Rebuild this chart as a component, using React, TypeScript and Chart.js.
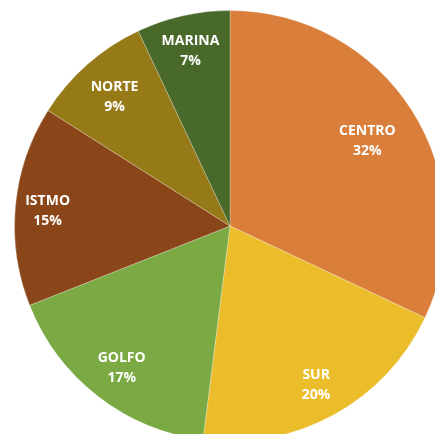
import React, { useEffect, useRef } from "react";
import { Chart, registerables } from "chart.js";

Chart.register(...registerables);

const categories = ["CENTRO", "SUR", "GOLFO", "ISTMO", "NORTE", "MARINA"];
const values = [32, 20, 17, 15, 9, 7];
const colors = ["#D97F3B", "#EBBD2A", "#7BAA45", "#8A4619", "#977A18", "#49692B"];
const labelRadius = [0.755, 0.83, 0.82, 0.85, 0.81, 0.84];

const labelPlugin = {
  id: "sliceLabels",
  afterDatasetsDraw(chart: any) {
    const ctx = chart.ctx;
    const meta = chart.getDatasetMeta(0);
    const data = chart.data.datasets[0].data as number[];
    const total = data.reduce((a, b) => a + b, 0);
    ctx.save();
    ctx.fillStyle = "#FFFFFF";
    ctx.font = "bold 14px 'Open Sans', 'Liberation Sans', sans-serif";
    ctx.textAlign = "center";
    ctx.textBaseline = "middle";
    meta.data.forEach((arc: any, i: number) => {
      const { x, y, startAngle, endAngle, outerRadius } = arc.getProps(
        ["x", "y", "startAngle", "endAngle", "outerRadius"],
        true
      );
      const mid = (startAngle + endAngle) / 2;
      const r = outerRadius * labelRadius[i];
      const lx = x + Math.cos(mid) * r;
      const ly = y + Math.sin(mid) * r + 2;
      const pct = Math.round((data[i] / total) * 100) + "%";
      ctx.fillText(chart.data.labels[i], lx, ly - 10);
      ctx.fillText(pct, lx, ly + 10);
    });
    ctx.restore();
  },
};

export default function App() {
  const ref = useRef<HTMLCanvasElement | null>(null);
  useEffect(() => {
    if (!ref.current) return;
    const chart = new Chart(ref.current, {
      type: "pie",
      data: {
        labels: categories,
        datasets: [
          {
            data: values,
            backgroundColor: colors,
            borderColor: "rgba(255,255,255,0.25)",
            borderWidth: 1,
          },
        ],
      },
      options: {
        responsive: false,
        animation: false,
        layout: { padding: 0 },
        plugins: {
          legend: { display: false },
          tooltip: { enabled: false },
        },
      },
      plugins: [labelPlugin],
    });
    return () => chart.destroy();
  }, []);
  return (
    <div
      style={{
        position: "fixed",
        left: 0,
        top: 0,
        width: 435,
        height: 434,
        overflow: "hidden",
        background: "#FFFFFF",
      }}
    >
      <canvas
        ref={ref}
        width={432}
        height={432}
        style={{ position: "absolute", left: 14, top: 10, width: 432, height: 432 }}
      />
    </div>
  );
}
